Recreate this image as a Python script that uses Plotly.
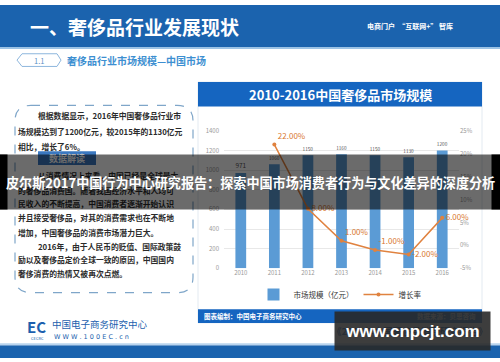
import plotly.graph_objects as go

# ---------------- data ----------------
years = ['2010', '2011', '2012', '2013', '2014', '2015', '2016']
market_size = [971, 1060, 1150, 1160, 1150, 1130, 1200]          # 亿元
growth_rate = [None, 22.0, 8.0, 1.0, -1.0, -2.0, 6.0]             # %
left_ticks = [0, 200, 400, 600, 800, 1000, 1200, 1400]
right_ticks = [-5, 0, 5, 10, 15, 20, 25]
right_tick_labels = ['-5%', '0%', '5%', '10%', '15%', '20%', '25%']

W, H = 500, 362
CJK = 'Noto Sans CJK SC'


def X(px):
    return px / W


def Y(py):
    return 1 - py / H


fig = go.Figure()

fig.add_trace(go.Bar(
    x=years, y=market_size, name='市场规模（亿元）',
    marker=dict(color='#5B9BD5', line=dict(width=0)),
    width=0.32,
    text=[str(v) for v in market_size], textposition='outside',
    textfont=dict(size=8, color='#555555', family=CJK),
    cliponaxis=False,
))

growth_text = ['' if v is None else f'{v:.2f}%' for v in growth_rate]
growth_pos = ['middle right', 'top right', 'middle right', 'top right',
              'top right', 'middle right', 'middle right']
fig.add_trace(go.Scatter(
    x=years, y=growth_rate, yaxis='y2', name='增长率',
    mode='lines+markers+text',
    line=dict(color='#E0823F', width=1.5),
    marker=dict(size=4, color='#E0823F'),
    text=growth_text, textposition=growth_pos,
    textfont=dict(size=8, color='#D9782F', family=CJK),
    cliponaxis=False, connectgaps=False,
))

shapes = []
annotations = []


def rect(x0, y0, x1, y1, fill, line_color=None, layer='below', lw=0, dash=None):
    d = dict(type='rect', xref='paper', yref='paper',
             x0=X(x0), x1=X(x1), y0=Y(y1), y1=Y(y0),
             fillcolor=fill, layer=layer,
             line=dict(width=lw, color=line_color or fill))
    if dash:
        d['line']['dash'] = dash
    shapes.append(d)


def text(x, y, s, size=8, color='#333', xanchor='left', bold=False, family=CJK, **kw):
    annotations.append(dict(
        xref='paper', yref='paper', x=X(x), y=Y(y), xanchor=xanchor, yanchor='middle',
        text=f'<b>{s}</b>' if bold else s, showarrow=False,
        font=dict(size=size, color=color, family=family), **kw))


# ---- header ----
rect(0, 0, 500, 43, '#1B63AE')
rect(0, 43, 500, 45, '#9CC3E6')
text(28, 22, '一、奢侈品行业发展现状', size=19, color='#FFFFFF', bold=True)
text(455, 22, '电商门户  “互联网+” 智库', size=7, color='#FFFFFF', xanchor='right', bold=True)

# section tag
pts = [(17, 56.5), (22, 50), (57, 50), (61, 56.5), (57, 63), (22, 63)]
path = 'M ' + ' L '.join(f'{X(a)},{Y(b)}' for a, b in pts) + ' Z'
shapes.append(dict(type='path', xref='paper', yref='paper', path=path,
                   line=dict(color='#8DB6DD', width=1), layer='below'))
text(39, 56.5, '1.1', size=7.5, color='#5A8FC4', xanchor='center')
text(65, 56.5, '奢侈品行业市场规模—中国市场', size=10, color='#3D8FD1', bold=True)

# ---- left text box (dashed rounded) ----
x0b, y0b, x1b, y1b, r = 15, 103, 193, 295, 16
cp = [
    ('M', [(x0b + r, y0b)]), ('L', [(x1b - r, y0b)]), ('Q', [(x1b, y0b), (x1b, y0b + r)]),
    ('L', [(x1b, y1b - r)]), ('Q', [(x1b, y1b), (x1b - r, y1b)]),
    ('L', [(x0b + r, y1b)]), ('Q', [(x0b, y1b), (x0b, y1b - r)]),
    ('L', [(x0b, y0b + r)]), ('Q', [(x0b, y0b), (x0b + r, y0b)]),
]
p = ' '.join(c + ' ' + ' '.join(f'{X(a)},{Y(b)}' for a, b in ps) for c, ps in cp) + ' Z'
shapes.append(dict(type='path', xref='paper', yref='paper', path=p,
                   line=dict(color='#7FA6C9', width=1.2, dash='dash'), layer='below'))

body = [
    (36, 113, '根据数据显示，2016年中国奢侈品行业市'),
    (16, 130, '场规模达到了1200亿元，较2015年的1130亿元'),
    (16, 145, '相比，增长了6%。'),
    (36, 175, '从消费情况上来看，中国已经是全球最大'),
    (16, 190, '的奢侈品消费国。随着我国经济水平和人均可'),
    (16, 204, '民收入的不断提高，中国消费者逐渐开始认识'),
    (16, 218, '并且接受奢侈品，对其的消费需求也在不断地'),
    (16, 233, '增加，中国奢侈品的消费市场潜力巨大。'),
    (36, 248, '2016年，由于人民币的贬值、国际政策鼓'),
    (16, 261, '励以及奢侈品定价全球一致的原因，中国国内'),
    (16, 275, '奢侈消费的热情又被再次点燃。'),
]
for bx, by, s in body:
    text(bx, by, s, size=7.8, color='#2B2B2B', bold=True)

# 数据解读 tag
rect(38, 150, 96, 164, '#3B78C0', layer='below')
text(67, 157, '数据解读', size=9, color='white', xanchor='center', bold=True)

# ---- chart panel ----
rect(198, 79, 482, 326, 'white', line_color='#E3EAF1', lw=1)
rect(198, 79, 482, 104, '#1565C0')
text(340, 92, '2010-2016中国奢侈品市场规模', size=13, color='white', xanchor='center', bold=True)
rect(198, 312, 482, 326, '#1565C0')
text(202, 319, '图表编制：中国电子商务研究中心', size=6.5, color='white', bold=True)
text(478, 319, '数据来源：贝恩咨询', size=6.5, color='#DDE6F0', xanchor='right', bold=True)

# ---- footer ----
rect(0, 349, 500, 362, '#1B63AE')
rect(0, 347, 500, 349, '#B9D4EE')
text(36, 330, 'EC', size=15, color='#1D5FAE', xanchor='center', bold=True)
text(29, 342, 'CECRC', size=4, color='#1D5FAE')
text(50, 327, '中国电子商务研究中心', size=9.5, color='#1D5FAE')
text(52, 340, 'W W W . 1 0 0 E C . c n', size=6.5, color='#1D5FAE', family='DejaVu Sans')
text(330, 334, '《2017年中国奢侈品消费研究报告》', size=9.5, color='#1D5FAE', bold=True)

# ---- overlays (drawn last, on top) ----
annotations.append(dict(
    xref='paper', yref='paper', x=0.5, y=Y(181), xanchor='center', yanchor='middle',
    text=' ', showarrow=False, width=500, height=54, borderpad=0,
    bgcolor='rgba(0,0,0,0.58)', font=dict(size=10)))
for ex, ew in ((3, 7), (496, 8)):
    annotations.append(dict(
        xref='paper', yref='paper', x=X(ex), y=Y(181), xanchor='center', yanchor='middle',
        text=' ', showarrow=False, width=ew, height=54, borderpad=0,
        bgcolor='black', font=dict(size=10)))
text(250, 182, '皮尔斯2017中国行为中心研究报告：探索中国市场消费者行为与文化差异的深度分析',
     size=13.1, color='white', xanchor='center', bold=True)
annotations.append(dict(
    xref='paper', yref='paper', x=X(412), y=Y(334), xanchor='center', yanchor='middle',
    text='<b>www.cnpcjt.com</b>', showarrow=False, width=155, height=38, borderpad=0,
    bgcolor='rgba(40,40,40,0.9)', font=dict(size=17, color='white', family='Liberation Sans')))

fig.update_layout(
    width=W, height=H, margin=dict(l=0, r=0, t=0, b=0),
    paper_bgcolor='white', plot_bgcolor='white',
    font=dict(family=CJK, color='#333'),
    bargap=0.68,
    xaxis=dict(domain=[X(224), X(459)], type='category', showgrid=False,
               tickfont=dict(size=6, color='#999'), showline=False, ticks=''),
    yaxis=dict(domain=[Y(270), Y(129)], range=[0, 1400], tickvals=left_ticks,
               gridcolor='#E8E8E8', gridwidth=1, zeroline=False,
               tickfont=dict(size=6, color='#999'), ticklabelstandoff=4),
    yaxis2=dict(overlaying='y', side='right', range=[-5, 25], tickvals=right_ticks,
                ticktext=right_tick_labels, showgrid=False, zeroline=False,
                tickfont=dict(size=6, color='#999'), anchor='x'),
    legend=dict(orientation='h', xref='paper', yref='paper', x=X(340), y=Y(297),
                xanchor='center', yanchor='middle', bgcolor='rgba(0,0,0,0)',
                font=dict(size=7.5, color='#333', family=CJK), itemwidth=30,
                tracegroupgap=0),
    shapes=shapes, annotations=annotations,
)

fig.write_html('out.html', config={'displayModeBar': False},
               post_script="document.body.style.margin='0';document.body.style.padding='0';"
                           "document.documentElement.style.overflow='hidden';")
